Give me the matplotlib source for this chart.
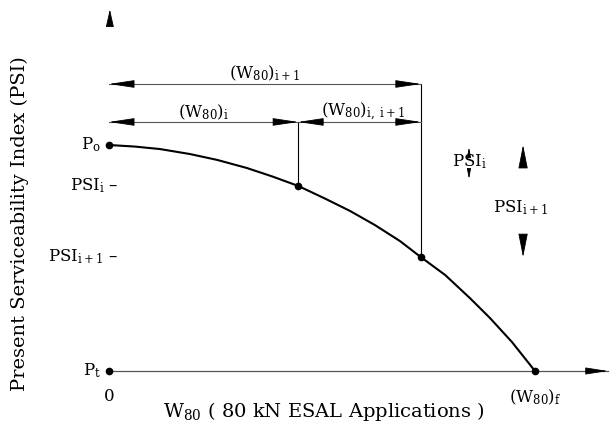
import matplotlib
matplotlib.use("Agg")
import matplotlib.pyplot as plt

# curve of PSI against load applications (Wf = 1, Po = 1, Pt = 0)
w_curve = [0.0, 0.061, 0.120, 0.190, 0.254, 0.324, 0.383, 0.444, 0.507, 0.566,
           0.624, 0.683, 0.732, 0.789, 0.847, 0.894, 0.946, 1.0]
psi_curve = [1.0, 0.993, 0.982, 0.960, 0.934, 0.898, 0.861, 0.819, 0.763, 0.708,
             0.646, 0.575, 0.504, 0.425, 0.323, 0.235, 0.128, 0.0]

w_i = 0.444      # (W80)i
w_i1 = 0.732     # (W80)i+1
w_f = 1.0        # (W80)f
psi_o = 1.0
psi_i = 0.819
psi_i1 = 0.504
psi_t = 0.0

plt.rcParams['font.family'] = ['DejaVu Serif']
plt.rcParams['mathtext.fontset'] = 'dejavuserif'
fs = 12

fig = plt.figure(figsize=(6.13, 4.28), dpi=100)
ax = fig.add_axes([0, 0, 1, 1])
ax.set_xlim(-0.2559, 1.1831)
ax.set_ylim(-0.2522, 1.6416)
ax.axis("off")

def head(tip, base, hl=1.6, hw=0.24):
    ax.annotate("", xy=tip, xytext=base,
                arrowprops=dict(arrowstyle="-|>,head_length=%g,head_width=%g" % (hl, hw),
                                color="black", lw=0.6, shrinkA=0, shrinkB=0))

# x axis with arrow, y axis arrow only
ax.plot([0, 1.171], [psi_t, psi_t], color="#555555", lw=0.9)
head((1.171, psi_t), (1.12, psi_t), hl=1.4, hw=0.22)
head((0.002, 1.60), (0.002, 1.54), hl=1.1, hw=0.25)

# curve
ax.plot(w_curve, psi_curve, color="black", lw=1.5)
ax.plot([0, w_i, w_i1, 0, w_f], [psi_o, psi_i, psi_i1, psi_t, psi_t],
        "o", color="black", ms=4.5)

# dimension lines
y1 = 1.27
y2 = 1.102
ax.plot([w_i, w_i], [psi_i, y2], color="black", lw=0.8)
ax.plot([w_i1, w_i1], [psi_i1, y1], color="black", lw=0.8)
ax.plot([0, w_i1], [y1, y1], color="#555555", lw=0.8)
ax.plot([0, w_i1], [y2, y2], color="#555555", lw=0.8)
d = 0.055
head((0, y1), (d, y1))
head((w_i1, y1), (w_i1 - d, y1))
head((0, y2), (d, y2))
head((w_i, y2), (w_i - d, y2))
head((w_i, y2), (w_i + d, y2))
head((w_i1, y2), (w_i1 - d, y2))

ax.text(w_i1 / 2, 1.319, r"(W$_{\mathregular{80}}$)$_{\mathregular{i+1}}$",
        ha="center", va="center", fontsize=fs)
ax.text(w_i / 2, 1.146, r"(W$_{\mathregular{80}}$)$_{\mathregular{i}}$",
        ha="center", va="center", fontsize=fs)
ax.text((w_i + w_i1) / 2 + 0.008, 1.146, r"(W$_{\mathregular{80}}$)$_{\mathregular{i,\ i+1}}$",
        ha="center", va="center", fontsize=fs)

# PSI drops
ax.text(0.847, 0.925, r"PSI$_{\mathregular{i}}$", ha="center", va="center", fontsize=fs)
head((0.845, 0.99), (0.845, 0.955), hl=0.6, hw=0.12)
head((0.845, 0.85), (0.845, 0.885), hl=0.6, hw=0.12)
ax.text(0.967, 0.721, r"PSI$_{\mathregular{i+1}}$", ha="center", va="center", fontsize=fs)
head((0.972, psi_o), (0.972, 0.903), hl=1.5, hw=0.3)
head((0.972, psi_i1), (0.972, 0.602), hl=1.5, hw=0.3)

# axis labels
ax.text(-0.019, psi_o, r"P$_{\mathregular{o}}$", ha="right", va="center", fontsize=fs)
ax.text(0.021, psi_i, r"PSI$_{\mathregular{i}}$ –", ha="right", va="center", fontsize=fs)
ax.text(0.021, psi_i1, r"PSI$_{\mathregular{i+1}}$ –", ha="right", va="center", fontsize=fs)
ax.text(-0.019, psi_t, r"P$_{\mathregular{t}}$", ha="right", va="center", fontsize=fs)
ax.text(0, -0.115, "0", ha="center", va="center", fontsize=fs)
ax.text(w_f, -0.115, r"(W$_{\mathregular{80}}$)$_{\mathregular{f}}$", ha="center", va="center", fontsize=fs)
ax.text(0.505, -0.181, r"W$_{\mathregular{80}}$ ( 80 kN ESAL Applications )",
        ha="center", va="center", fontsize=14)
ax.text(-0.209, 0.65, "Present Serviceability Index (PSI)", rotation=90,
        ha="center", va="center", fontsize=14)

plt.savefig("out.png", dpi=100)
